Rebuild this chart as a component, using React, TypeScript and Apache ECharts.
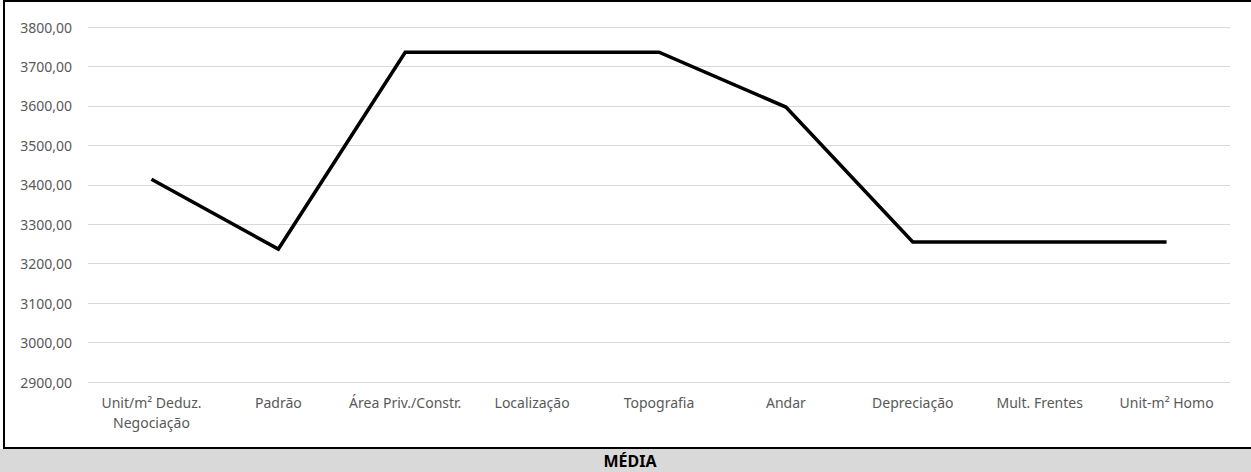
import React, { useEffect, useRef } from "react";
import * as echarts from "echarts";

// Stages of the unit-price homogenisation
const categories: string[] = [
  "Unit/m² Deduz.\nNegociação",
  "Padrão",
  "Área Priv./Constr.",
  "Localização",
  "Topografia",
  "Andar",
  "Depreciação",
  "Mult. Frentes",
  "Unit-m² Homo",
];

// Average value (R$/m²) after each stage
const mediaValues: number[] = [3414, 3237, 3736, 3736, 3736, 3597, 3255, 3255, 3255];

const yMin = 2900;
const yMax = 3800;
const yStep = 100;

const footerTitle = "MÉDIA";

const W = 1251;
const H = 472;

export default function App() {
  const ref = useRef<HTMLDivElement>(null);

  useEffect(() => {
    document.body.style.margin = "0";
    document.body.style.overflow = "hidden";
    if (!ref.current) return;
    const chart = echarts.init(ref.current, undefined, { renderer: "svg" });
    const font = "'Noto Sans', 'Open Sans', sans-serif";
    chart.setOption({
      animation: false,
      backgroundColor: "#ffffff",
      grid: { left: 88, right: 21, top: 27, bottom: 90, containLabel: false },
      xAxis: {
        type: "category",
        data: categories,
        boundaryGap: true,
        axisLine: { show: false },
        axisTick: { show: false },
        axisLabel: {
          interval: 0,
          color: "#595959",
          fontFamily: font,
          fontSize: 14,
          lineHeight: 20,
          margin: 10,
        },
      },
      yAxis: {
        type: "value",
        min: yMin,
        max: yMax,
        interval: yStep,
        axisLine: { show: false },
        axisTick: { show: false },
        splitLine: { lineStyle: { color: "#d9d9d9", width: 1 } },
        axisLabel: {
          color: "#595959",
          fontFamily: font,
          fontSize: 14,
          margin: 16,
          formatter: (v: number) => v.toFixed(2).replace(".", ","),
        },
      },
      series: [
        {
          name: footerTitle,
          type: "line",
          data: mediaValues,
          showSymbol: false,
          symbol: "none",
          lineStyle: { color: "#000000", width: 3.5, join: "miter" },
        },
      ],
      graphic: [
        {
          // top edge of the chart box
          type: "line",
          shape: { x1: 3, y1: 1, x2: W, y2: 1 },
          style: { stroke: "#000000", lineWidth: 2 },
          silent: true,
          z: 10,
        },
        {
          // left edge
          type: "line",
          shape: { x1: 4, y1: 0, x2: 4, y2: 449 },
          style: { stroke: "#000000", lineWidth: 2 },
          silent: true,
          z: 10,
        },
        {
          // bottom edge
          type: "line",
          shape: { x1: 3, y1: 448, x2: W, y2: 448 },
          style: { stroke: "#000000", lineWidth: 2 },
          silent: true,
          z: 10,
        },
        {
          type: "rect",
          shape: { x: 0, y: 449, width: W, height: H - 449 },
          style: { fill: "#d9d9d9" },
          silent: true,
          z: 9,
        },
        {
          type: "text",
          x: 630,
          y: 461,
          style: {
            text: footerTitle,
            fill: "#000000",
            font: `bold 16px ${font}`,
            textAlign: "center",
            textVerticalAlign: "middle",
          },
          silent: true,
          z: 11,
        },
      ],
    });
    return () => chart.dispose();
  }, []);

  return <div ref={ref} style={{ width: W, height: H }} />;
}
